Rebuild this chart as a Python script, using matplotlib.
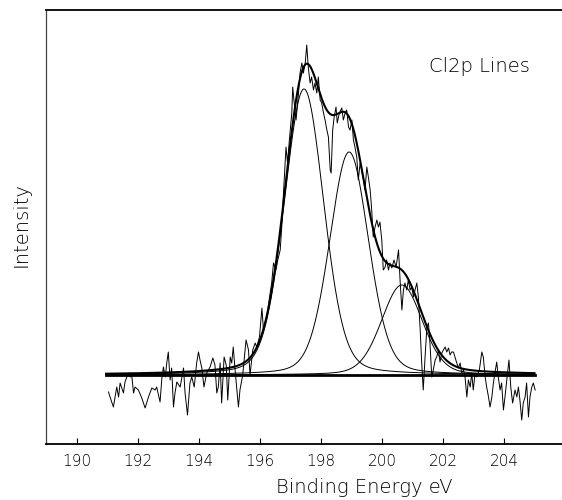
import numpy as np
import matplotlib
matplotlib.use("Agg")
import matplotlib.pyplot as plt

# raw Cl2p spectrum (intensity relative to the flat background)
raw_ev = [191.03, 191.08, 191.19, 191.30, 191.36, 191.41, 191.52, 191.57, 191.68, 191.74,
          191.79, 191.85, 191.90, 192.01, 192.12, 192.23, 192.34, 192.45, 192.56, 192.61,
          192.72, 192.78, 192.83, 192.89, 192.94, 192.99, 193.05, 193.10, 193.16, 193.21,
          193.27, 193.38, 193.49, 193.54, 193.62, 193.70, 193.76, 193.84, 193.92, 193.98,
          194.03, 194.09, 194.16, 194.25, 194.36, 194.45, 194.52, 194.58, 194.63, 194.69,
          194.74, 194.82, 194.89, 194.94, 195.02, 195.07, 195.12, 195.18, 195.24, 195.29,
          195.34, 195.43, 195.54, 195.62, 195.67, 195.76, 195.84, 195.89, 195.98, 196.06,
          196.11, 196.22, 196.33, 196.38, 196.44, 196.52, 196.58, 196.66,
          196.71, 196.76, 196.85, 196.90, 196.96, 197.04, 197.07, 197.11, 197.18, 197.26,
          197.31, 197.37, 197.42, 197.48, 197.53, 197.58, 197.64, 197.69, 197.75, 197.80,
          197.86, 197.91, 197.97, 198.02, 198.08, 198.13, 198.19, 198.24, 198.30, 198.33,
          198.38, 198.43, 198.49, 198.53, 198.60, 198.68, 198.73, 198.79, 198.84, 198.90,
          198.95, 199.01, 199.06, 199.11, 199.17, 199.22, 199.28, 199.33, 199.39, 199.44,
          199.50, 199.55, 199.61,
          199.66, 199.71, 199.77, 199.83, 199.88, 199.93, 199.99, 200.04, 200.10, 200.15,
          200.21, 200.26, 200.32, 200.39, 200.46, 200.54, 200.59, 200.65, 200.70, 200.75,
          200.81, 200.86, 200.92, 200.97, 201.03, 201.08, 201.14, 201.19, 201.25, 201.30,
          201.35, 201.41, 201.47, 201.52, 201.57, 201.63, 201.68, 201.74, 201.79, 201.85,
          201.90, 201.96, 202.01, 202.07, 202.12, 202.18, 202.23, 202.28, 202.34, 202.39,
          202.45, 202.50, 202.56, 202.61, 202.67, 202.72, 202.78, 202.83, 202.89, 202.94,
          202.99, 203.05, 203.10, 203.19, 203.27, 203.32, 203.38, 203.43, 203.49, 203.54,
          203.60, 203.65, 203.70, 203.76, 203.81, 203.87, 203.92, 203.98, 204.03, 204.09,
          204.16, 204.22, 204.28, 204.36, 204.42, 204.47, 204.52, 204.58, 204.63, 204.69,
          204.74, 204.80, 204.85, 204.91, 204.96, 205.02]
raw_int = [-17, -22, -32, -12, -22, -8, -18, -7, 2, -2,
           0, -18, -12, -15, -23, -33, -22, -13, -15, -12,
           -27, -3, 8, -2, 12, 23, -5, 7, -32, -18,
           -7, -12, 7, -18, -40, -8, -2, -12, 12, 23,
           15, 7, -12, 2, 8, 17, 10, -18, -12, 12,
           -28, 18, 10, -25, 18, 12, 28, 5, -15, -32,
           -15, 0, 35, 25, 0, 25, 32, 28, 38, 67,
           45, 58, 82, 92, 112, 105, 115, 125,
           148, 178, 228, 212, 235, 262, 288, 275, 255, 282,
           302, 312, 302, 312, 330, 308, 292, 298, 285, 292,
           282, 298, 275, 272, 262, 255, 245, 238, 205, 202,
           245, 258, 268, 252, 262, 267, 255, 262, 265, 248,
           245, 255, 235, 228, 218, 195, 212, 205, 195, 185,
           208, 198, 185,
           165, 138, 148, 155, 148, 153, 135, 105, 108, 115,
           105, 112, 107, 115, 108, 125, 95, 65, 85, 92,
           85, 95, 85, 88, 78, 85, 92, 78, 45, 12,
           -15, 18, 48, 52, 32, -2, 5, 15, 18, 25,
           13, 22, 25, 28, 23, 27, 20, 23, 23, 18,
           12, 7, 12, 2, 5, -2, -22, -5, -12, 2,
           -15, 2, -2, 5, 23, 18, -2, -12, -22, -32,
           -22, -8, 2, 13, -2, -15, -8, -35, -22, -5,
           15, -12, -28, -15, -22, -12, -25, -45, -28, -22,
           -8, -42, -22, -12, -8, -15]

# fitted Cl2p components (Gaussian/Lorentzian lines on a flat background)
peak_centers = [197.44, 198.92, 200.65]
peak_heights = [286, 223, 90]
peak_fwhm = [1.53, 1.51, 1.58]
lorentz_frac = 0.2
background = 0.0
fit_range = [190.95, 205.0]


def gl_line(x, c, h, w):
    s = w / 2.3548
    g = np.exp(-(x - c) ** 2 / (2 * s * s))
    l = 1.0 / (1.0 + ((x - c) / (w / 2)) ** 2)
    return h * ((1 - lorentz_frac) * g + lorentz_frac * l)


fig = plt.figure(figsize=(5.62, 5.0), dpi=100)
ax = fig.add_axes([46 / 562, 56 / 500, 516 / 562, 434 / 500])

xf = np.linspace(fit_range[0], fit_range[1], 800)
comps = [background + gl_line(xf, c, h, w) for c, h, w in zip(peak_centers, peak_heights, peak_fwhm)]
envelope = background + sum(c - background for c in comps)

ax.plot(raw_ev, raw_int, color='black', lw=0.7)
for c in comps:
    ax.plot(xf, c, color='black', lw=0.7)
ax.plot(xf, envelope, color='black', lw=1.5)
ax.plot(fit_range, [background, background], color='black', lw=2.0)

ax.text(203.2, 308, 'Cl2p Lines', ha='center', va='center', fontsize=14,
        fontweight='light', family='DejaVu Sans')

ax.set_xlim(188.98, 205.9)
ax.set_ylim(-69, 365)
ax.set_xticks(range(190, 206, 2))
ax.set_yticks([])
ax.tick_params(axis='x', direction='in', length=4, width=0.8, pad=7.5, labelsize=11)
for lab in ax.get_xticklabels():
    lab.set_fontweight('light')

ax.spines['right'].set_visible(False)
ax.spines['bottom'].set_linewidth(1.3)
ax.spines['top'].set_linewidth(1.3)
ax.spines['left'].set_linewidth(0.9)
ax.spines['left'].set_color('#444444')

ax.set_xlabel('Binding Energy eV', fontsize=14, fontweight='light')
ax.xaxis.set_label_coords(0.616, -0.101)
ax.xaxis.label.set_va('center')
ax.set_ylabel('Intensity', fontsize=14, fontweight='light')
ax.yaxis.set_label_coords(-0.048, 0.505)
ax.yaxis.label.set_va('center')

fig.savefig('out.png', dpi=100)
